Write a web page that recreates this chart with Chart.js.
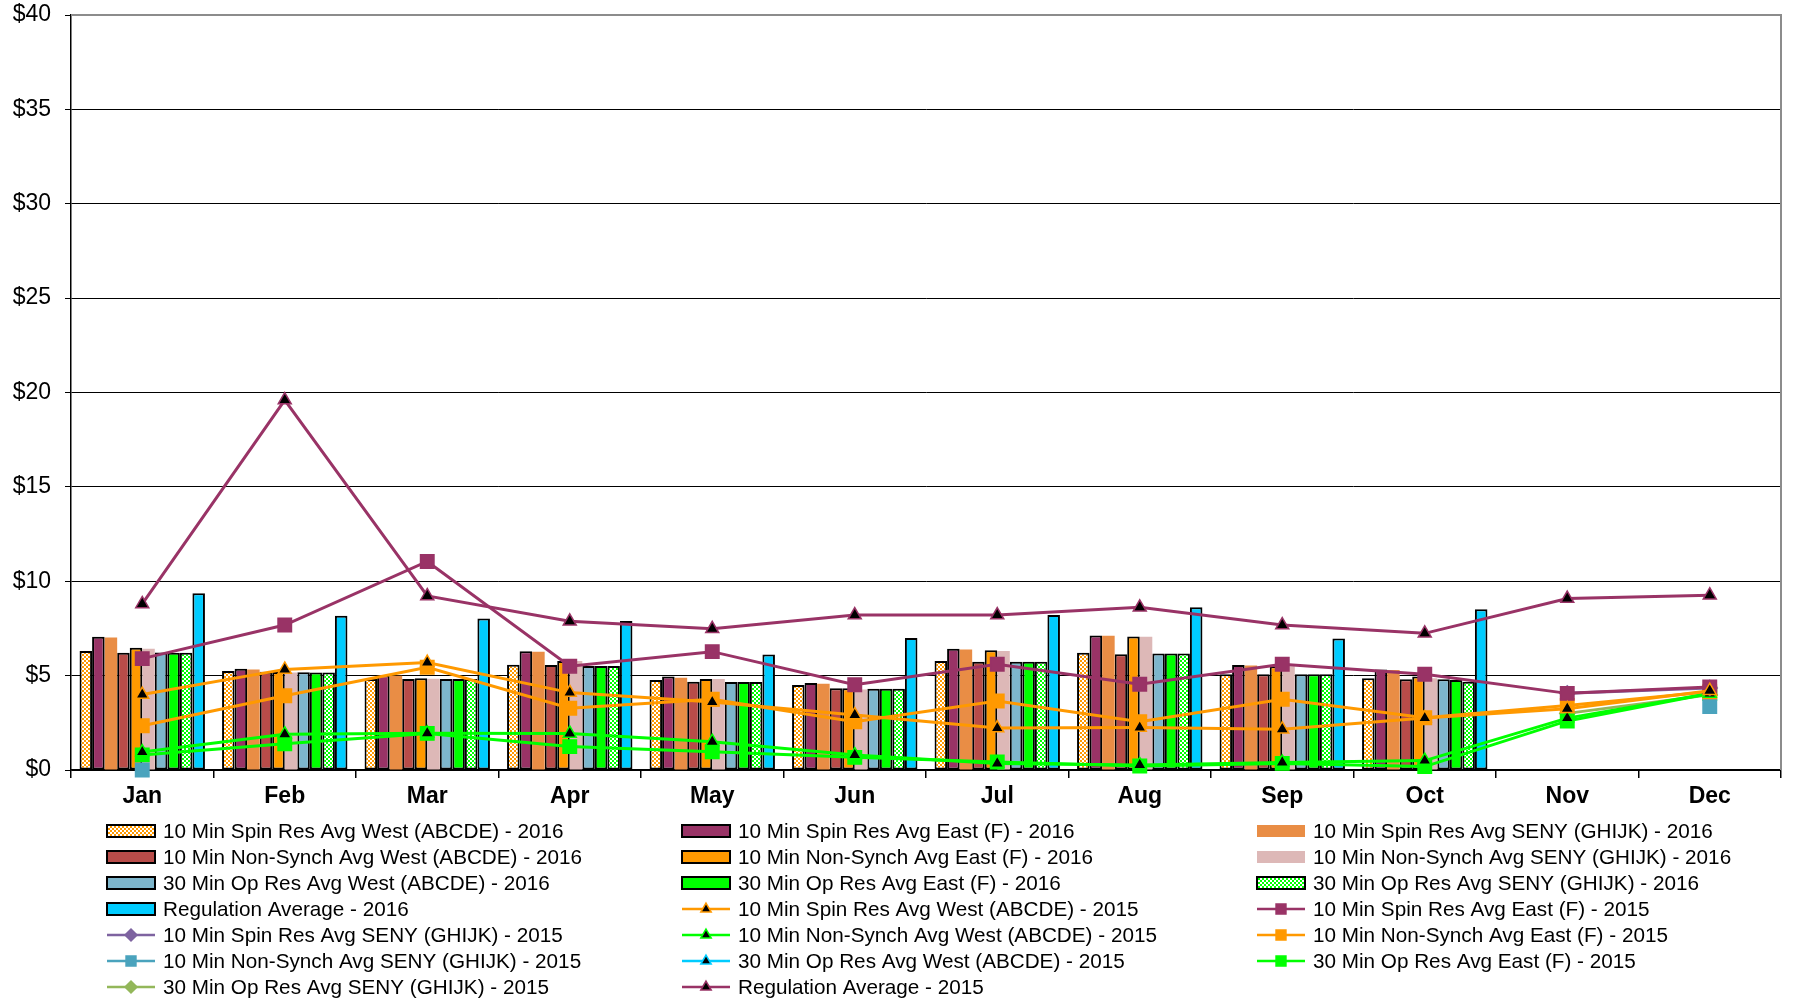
<!DOCTYPE html>
<html>
<head>
<meta charset="utf-8">
<script src="https://cdn.jsdelivr.net/npm/chart.js@4.4.1/dist/chart.umd.min.js"></script>
<style>
  html, body { margin: 0; padding: 0; background: #fff; }
  #wrap { width: 1810px; height: 1000px; position: relative; }
</style>
</head>
<body>
<div id="wrap"><canvas id="reserveChart"></canvas></div>
<script>
// months on the x axis
const months = ['Jan', 'Feb', 'Mar', 'Apr', 'May', 'Jun', 'Jul', 'Aug', 'Sep', 'Oct', 'Nov', 'Dec'];
const yTicks = [0, 5, 10, 15, 20, 25, 30, 35, 40];

// 2016 monthly averages (bars)
const spinWest16 = [6.30, 5.25, 4.82, 5.58, 4.77, 4.50, 5.78, 6.21, 5.07, 4.86, null, null];
const spinEast16 = [7.06, 5.37, 5.02, 6.29, 4.95, 4.61, 6.42, 7.13, 5.56, 5.33, null, null];
const spinSeny16 = [7.02, 5.33, 5.00, 6.27, 4.89, 4.57, 6.38, 7.11, 5.53, 5.30, null, null];
const nsWest16   = [6.21, 5.20, 4.82, 5.56, 4.68, 4.33, 5.73, 6.13, 5.07, 4.81, null, null];
const nsEast16   = [6.48, 5.19, 4.86, 5.77, 4.82, 4.33, 6.35, 7.07, 5.50, 4.95, null, null];
const nsSeny16   = [6.43, 5.16, 4.84, 5.77, 4.82, 4.26, 6.31, 7.06, 5.50, 4.86, null, null];
const opWest16   = [6.23, 5.18, 4.82, 5.51, 4.66, 4.31, 5.73, 6.17, 5.07, 4.81, null, null];
const opEast16   = [6.21, 5.16, 4.82, 5.51, 4.66, 4.31, 5.73, 6.17, 5.07, 4.77, null, null];
const opSeny16   = [6.21, 5.16, 4.82, 5.51, 4.66, 4.31, 5.73, 6.17, 5.07, 4.68, null, null];
const reg16      = [9.37, 8.17, 8.03, 7.90, 6.12, 7.00, 8.21, 8.62, 6.97, 8.52, null, null];

// 2015 monthly averages (lines)
const spinWest15 = [4.00, 5.33, 5.69, 4.10, 3.60, 2.92, 2.22, 2.25, 2.16, 2.75, 3.25, 4.20];
const spinEast15 = [5.90, 7.68, 11.05, 5.50, 6.27, 4.52, 5.60, 4.54, 5.60, 5.07, 4.06, 4.40];
const spinSeny15 = [null, null, null, null, null, null, null, null, null, null, 4.06, 4.35];
const nsWest15   = [0.95, 1.90, 1.95, 1.94, 1.50, 0.80, 0.35, 0.27, 0.40, 0.50, 2.75, 4.05];
const nsEast15   = [2.34, 3.93, 5.44, 3.27, 3.75, 2.56, 3.66, 2.56, 3.75, 2.77, 3.42, 4.15];
const nsSeny15   = [0.00, null, null, null, null, null, null, null, null, null, null, 3.36];
const opWest15   = [null, null, null, null, null, null, null, null, null, null, null, null];
const opEast15   = [0.80, 1.39, 1.94, 1.24, 0.97, 0.67, 0.42, 0.21, 0.35, 0.18, 2.60, 4.05];
const opSeny15   = [null, null, null, null, null, null, null, null, null, null, 3.00, 3.98];
const reg15      = [8.80, 19.60, 9.22, 7.88, 7.48, 8.21, 8.21, 8.62, 7.68, 7.24, 9.08, 9.26];

const FONT = '"Liberation Sans", Arial, sans-serif';
Chart.defaults.font.family = FONT;
Chart.defaults.color = '#000';

function checker(color) {
    const c = document.createElement('canvas');
    c.width = 4; c.height = 4;
    const g = c.getContext('2d');
    g.fillStyle = '#fff';
    g.fillRect(0, 0, 4, 4);
    g.fillStyle = color;
    g.fillRect(0, 0, 2, 2);
    g.fillRect(2, 2, 2, 2);
    return g.createPattern(c, 'repeat');
}

function bar(label, data, color, bordered) {
    return {
        type: 'bar', label: label, data: data, order: 2,
        backgroundColor: color,
        borderColor: '#000',
        borderWidth: bordered ? 2 : 0,
        borderSkipped: false,
        categoryPercentage: 0.88,
        barPercentage: 1.0
    };
}

function line(label, data, color, style, fill) {
    const r = style === 'rect' ? 9.5 : 7.5;
    return {
        type: 'line', label: label, data: data, order: 1,
        borderColor: color,
        backgroundColor: fill,
        borderWidth: 3,
        pointStyle: style,
        pointRadius: r,
        pointHoverRadius: r,
        pointBackgroundColor: fill,
        pointBorderColor: color,
        pointBorderWidth: 1.5,
        tension: 0,
        spanGaps: false,
        clip: false
    };
}

const datasets = [
    bar('10 Min Spin Res Avg West (ABCDE) - 2016', spinWest16, checker('#FF9900'), true),
    bar('10 Min Spin Res Avg East (F) - 2016', spinEast16, '#993366', true),
    bar('10 Min Spin Res Avg SENY (GHIJK) - 2016', spinSeny16, '#E98D45', false),
    bar('10 Min Non-Synch Avg West (ABCDE) - 2016', nsWest16, '#B84C49', true),
    bar('10 Min Non-Synch Avg East (F) - 2016', nsEast16, '#FF9900', true),
    bar('10 Min Non-Synch Avg SENY (GHIJK) - 2016', nsSeny16, '#DDB8B7', false),
    bar('30 Min Op Res Avg West (ABCDE) - 2016', opWest16, '#7DB6CC', true),
    bar('30 Min Op Res Avg East (F) - 2016', opEast16, '#00FF00', true),
    bar('30 Min Op Res Avg SENY (GHIJK) - 2016', opSeny16, checker('#00FF00'), true),
    bar('Regulation Average - 2016', reg16, '#00CCFF', true),
    line('10 Min Spin Res Avg West (ABCDE) - 2015', spinWest15, '#FF9900', 'triangle', '#000'),
    line('10 Min Spin Res Avg East (F) - 2015', spinEast15, '#993366', 'rect', '#993366'),
    line('10 Min Spin Res Avg SENY (GHIJK) - 2015', spinSeny15, '#7E63A0', 'rectRot', '#7E63A0'),
    line('10 Min Non-Synch Avg West (ABCDE) - 2015', nsWest15, '#00FF00', 'triangle', '#000'),
    line('10 Min Non-Synch Avg East (F) - 2015', nsEast15, '#FF9900', 'rect', '#FF9900'),
    line('10 Min Non-Synch Avg SENY (GHIJK) - 2015', nsSeny15, '#4AA3BD', 'rect', '#4AA3BD'),
    line('30 Min Op Res Avg West (ABCDE) - 2015', opWest15, '#00CCFF', 'triangle', '#000'),
    line('30 Min Op Res Avg East (F) - 2015', opEast15, '#00FF00', 'rect', '#00FF00'),
    line('30 Min Op Res Avg SENY (GHIJK) - 2015', opSeny15, '#93B75A', 'rectRot', '#93B75A'),
    line('Regulation Average - 2015', reg15, '#993366', 'triangle', '#000')
];

// plot frame (gray top/right) and the 3-column legend underneath
const framePlugin = {
    id: 'frame',
    afterDatasetsDraw(chart) {
        const a = chart.chartArea, ctx = chart.ctx;
        ctx.save();
        ctx.strokeStyle = '#8c8c8c';
        ctx.lineWidth = 2;
        ctx.beginPath();
        ctx.moveTo(a.left, a.top);
        ctx.lineTo(a.right, a.top);
        ctx.lineTo(a.right, a.bottom);
        ctx.stroke();
        ctx.restore();
    }
};

const gridLegend = {
    id: 'gridLegend',
    afterDraw(chart) {
        const ctx = chart.ctx;
        ctx.save();
        ctx.font = '20.7px ' + FONT;
        ctx.textBaseline = 'middle';
        chart.data.datasets.forEach((ds, i) => {
            const x = 107 + (i % 3) * 575;
            const y = 831 + Math.floor(i / 3) * 26;
            if (ds.type === 'bar') {
                ctx.fillStyle = ds.backgroundColor;
                ctx.fillRect(x, y - 6, 48, 12);
                if (ds.borderWidth) {
                    ctx.strokeStyle = '#000';
                    ctx.lineWidth = 2;
                    ctx.strokeRect(x, y - 6, 48, 12);
                }
            } else {
                ctx.strokeStyle = ds.borderColor;
                ctx.lineWidth = 2.5;
                ctx.beginPath();
                ctx.moveTo(x, y);
                ctx.lineTo(x + 48, y);
                ctx.stroke();
                ctx.fillStyle = ds.pointBackgroundColor;
                ctx.lineWidth = 1.5;
                Chart.helpers.drawPoint(ctx, {
                    pointStyle: ds.pointStyle,
                    radius: ds.pointStyle === 'rect' ? 7 : 6,
                    borderWidth: 1.5,
                    rotation: 0
                }, x + 24, y);
            }
            ctx.fillStyle = '#000';
            ctx.fillText(ds.label, x + 56, y + 1);
        });
        ctx.restore();
    }
};

new Chart(document.getElementById('reserveChart'), {
    data: { labels: months, datasets: datasets },
    plugins: [framePlugin, gridLegend],
    options: {
        responsive: true,
        maintainAspectRatio: false,
        animation: false,
        layout: { padding: { top: 15, right: 29, bottom: 185, left: 0 } },
        plugins: {
            legend: { display: false },
            tooltip: { enabled: false }
        },
        scales: {
            x: {
                offset: true,
                grid: {
                    display: true, offset: true, drawOnChartArea: false,
                    color: '#000', tickLength: 8, lineWidth: 1.5
                },
                border: { color: '#000', width: 1.5 },
                ticks: { font: { size: 23, weight: 'bold' }, padding: 5, color: '#000' },
                afterFit: axis => { axis.height = 45; }
            },
            y: {
                min: 0, max: 40,
                afterBuildTicks: axis => { axis.ticks = yTicks.map(v => ({ value: v })); },
                grid: { color: '#000', lineWidth: 1, tickLength: 6 },
                border: { color: '#000', width: 1.5 },
                ticks: {
                    font: { size: 23 }, padding: 14, color: '#000',
                    callback: v => '$' + v
                },
                afterFit: axis => {
                    axis.width = 71;
                    axis.paddingTop = 0;
                    axis.paddingBottom = 0;
                }
            }
        }
    }
});
</script>
</body>
</html>
